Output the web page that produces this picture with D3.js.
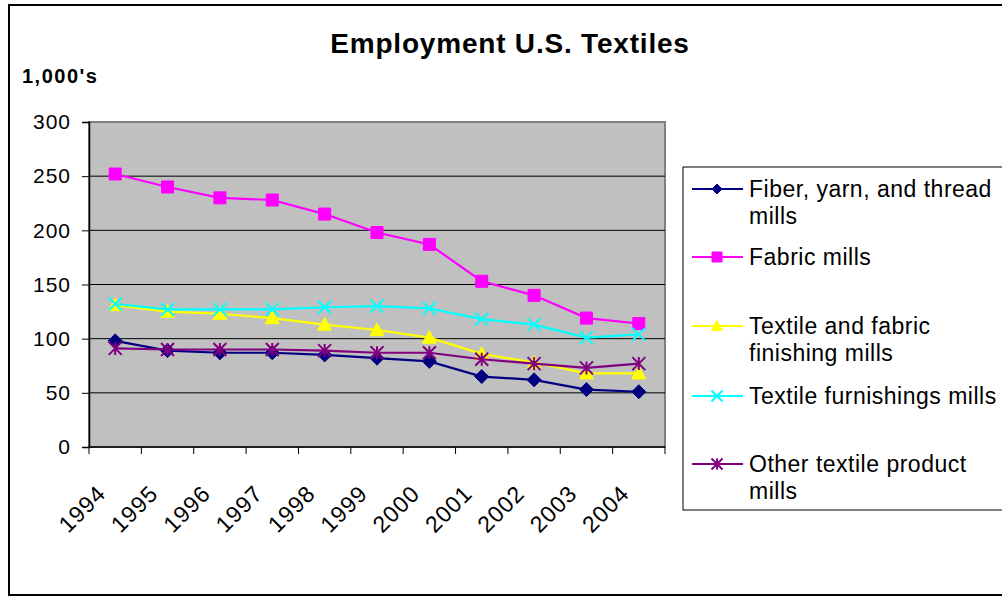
<!DOCTYPE html>
<html>
<head>
<meta charset="utf-8">
<script src="https://cdn.jsdelivr.net/npm/d3@7"></script>
<style>
  body { margin: 0; background: #fff; }
  svg { display: block; font-family: 'Liberation Sans', Arial, sans-serif; }
</style>
</head>
<body>
<svg id="chart" width="1002" height="596"></svg>
<script>
const years = ['1994', '1995', '1996', '1997', '1998', '1999', '2000', '2001', '2002', '2003', '2004'];
const yTicks = [0, 50, 100, 150, 200, 250, 300];

const fiberYarnThread = [98, 89, 87, 87, 85, 82, 79, 65, 62, 53, 51];
const fabricMills = [252, 240, 230, 228, 215, 198, 187, 153, 140, 119, 114];
const finishingMills = [131, 125, 123, 119, 113, 108, 101, 86, 78, 68, 68];
const furnishingsMills = [132, 127, 127, 127, 129, 130, 128, 118, 113, 101, 104];
const otherProductMills = [91, 90, 90, 90, 89, 87, 87, 81, 77, 73, 77];

const seriesNames = [
  ['Fiber, yarn, and thread', 'mills'],
  ['Fabric mills'],
  ['Textile and fabric', 'finishing mills'],
  ['Textile furnishings mills'],
  ['Other textile product', 'mills']
];

const series = [
  { name: seriesNames[0], values: fiberYarnThread, color: '#000080', marker: 'diamond' },
  { name: seriesNames[1], values: fabricMills, color: '#FF00FF', marker: 'square' },
  { name: seriesNames[2], values: finishingMills, color: '#FFFF00', marker: 'triangle' },
  { name: seriesNames[3], values: furnishingsMills, color: '#00FFFF', marker: 'x' },
  { name: seriesNames[4], values: otherProductMills, color: '#800080', marker: 'star' }
];

const svg = d3.select('#chart');

// outer chart frame
svg.append('rect')
  .attr('x', 9).attr('y', 5)
  .attr('width', 1010).attr('height', 590)
  .attr('fill', 'none')
  .attr('stroke', '#000')
  .attr('stroke-width', 2);

const plot = { left: 89, top: 122, right: 665, bottom: 447 };

const x = d3.scaleBand()
  .domain(years)
  .range([plot.left, plot.right]);

const y = d3.scaleLinear()
  .domain([0, 300])
  .range([plot.bottom, plot.top]);

// plot area
svg.append('rect')
  .attr('x', plot.left).attr('y', plot.top)
  .attr('width', plot.right - plot.left).attr('height', plot.bottom - plot.top)
  .attr('fill', '#C0C0C0')
  .attr('stroke', '#808080')
  .attr('stroke-width', 2);

// gridlines
svg.append('g')
  .selectAll('line')
  .data(yTicks.filter(d => d > 0 && d < 300))
  .enter()
  .append('line')
  .attr('x1', plot.left).attr('x2', plot.right)
  .attr('y1', d => y(d)).attr('y2', d => y(d))
  .attr('stroke', '#000')
  .attr('stroke-width', 1);

// y axis
const yAxis = svg.append('g')
  .attr('transform', `translate(${plot.left},0)`)
  .call(d3.axisLeft(y).tickValues(yTicks).tickSize(7).tickPadding(11).tickFormat(d3.format('d')));
yAxis.select('.domain').attr('stroke', '#000').attr('stroke-width', 1.5);
yAxis.selectAll('.tick line').attr('stroke', '#000');
yAxis.selectAll('.tick text')
  .attr('font-size', 21)
  .attr('letter-spacing', 1)
  .attr('fill', '#000')
  .attr('font-family', "'Liberation Sans', Arial, sans-serif");

// x axis: ticks at band edges
const xAxis = svg.append('g');
xAxis.append('line')
  .attr('x1', plot.left).attr('x2', plot.right)
  .attr('y1', plot.bottom).attr('y2', plot.bottom)
  .attr('stroke', '#000')
  .attr('stroke-width', 1.5);
const edges = years.map(d => x(d)).concat([x(years[years.length - 1]) + x.bandwidth()]);
xAxis.selectAll('.tk')
  .data(edges)
  .enter()
  .append('line')
  .attr('x1', d => d).attr('x2', d => d)
  .attr('y1', plot.bottom).attr('y2', plot.bottom + 7)
  .attr('stroke', '#000');
xAxis.selectAll('text')
  .data(years)
  .enter()
  .append('text')
  .attr('transform', d => `translate(${x(d) + x.bandwidth() / 2 - 8},${plot.bottom + 48}) rotate(-45)`)
  .attr('text-anchor', 'end')
  .attr('font-size', 23)
  .attr('letter-spacing', 1)
  .text(d => d);

// lines
const line = d3.line()
  .x((d, i) => x(years[i]) + x.bandwidth() / 2)
  .y(d => y(d));

const markerPath = (type, s) => {
  const h = s / 2;
  if (type === 'diamond') return `M0,${-h}L${h},0L0,${h}L${-h},0Z`;
  if (type === 'square') return `M${-h},${-h}H${h}V${h}H${-h}Z`;
  if (type === 'triangle') return `M0,${-h}L${h},${h * 0.8}L${-h},${h * 0.8}Z`;
  if (type === 'x') return `M${-h},${-h}L${h},${h}M${h},${-h}L${-h},${h}`;
  return `M${-h},${-h}L${h},${h}M${h},${-h}L${-h},${h}M0,${-h}V${h}`;
};

const plotSize = { diamond: 14, square: 12, triangle: 14, x: 13, star: 13 };
const legendSize = { diamond: 10, square: 10, triangle: 11, x: 11, star: 11 };

const drawMarker = (sel, s, d) => {
  const open = d.marker === 'x' || d.marker === 'star';
  sel.append('path')
    .attr('d', markerPath(d.marker, s))
    .attr('fill', open ? 'none' : d.color)
    .attr('stroke', d.color)
    .attr('stroke-width', open ? 2 : 1);
};

const sg = svg.append('g')
  .selectAll('g')
  .data(series)
  .enter()
  .append('g');

sg.append('path')
  .attr('d', d => line(d.values))
  .attr('fill', 'none')
  .attr('stroke', d => d.color)
  .attr('stroke-width', 2.2);

sg.each(function (d) {
  const g = d3.select(this);
  d.values.forEach((v, i) => {
    const m = g.append('g')
      .attr('transform', `translate(${x(years[i]) + x.bandwidth() / 2},${y(v)})`);
    drawMarker(m, plotSize[d.marker], d);
  });
});

// title
svg.append('text')
  .attr('x', 510).attr('y', 53)
  .attr('text-anchor', 'middle')
  .attr('font-size', 28)
  .attr('font-weight', 'bold')
  .attr('letter-spacing', 0.8)
  .text('Employment U.S. Textiles');

svg.append('text')
  .attr('x', 22).attr('y', 83)
  .attr('font-size', 20)
  .attr('font-weight', 'bold')
  .attr('letter-spacing', 1.5)
  .text("1,000's");

// legend
const legend = svg.append('g');
legend.append('rect')
  .attr('x', 683).attr('y', 167)
  .attr('width', 340).attr('height', 343)
  .attr('fill', '#fff')
  .attr('stroke', '#000')
  .attr('stroke-width', 1);

const legendY = [189, 257, 326, 396, 464];
const items = legend.selectAll('.item')
  .data(series)
  .enter()
  .append('g')
  .attr('transform', (d, i) => `translate(0,${legendY[i]})`);

items.append('line')
  .attr('x1', 692).attr('x2', 743)
  .attr('stroke', d => d.color)
  .attr('stroke-width', 2);

items.each(function (d) {
  const m = d3.select(this).append('g').attr('transform', 'translate(717,0)');
  drawMarker(m, legendSize[d.marker], d);
});

items.append('text')
  .attr('x', 749)
  .attr('y', 8)
  .attr('font-size', 23)
  .attr('letter-spacing', 0.5)
  .selectAll('tspan')
  .data(d => d.name)
  .enter()
  .append('tspan')
  .attr('x', 749)
  .attr('dy', (d, i) => i === 0 ? 0 : 27)
  .text(d => d);
</script>
</body>
</html>
